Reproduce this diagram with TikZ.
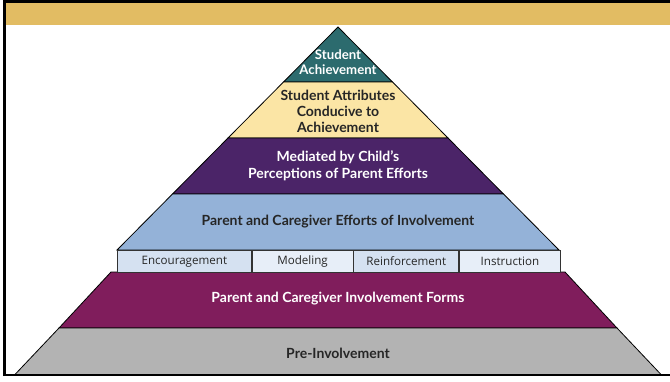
\documentclass[tikz,border=0pt]{standalone}
\usepackage{fontspec}
\setmainfont{Lato}
\newfontfamily\boxfont{Open Sans}
\usetikzlibrary{positioning}

\definecolor{bandGold}{HTML}{E2BC63}
\definecolor{tealTop}{HTML}{2C6B6E}
\definecolor{paleYellow}{HTML}{FBE5A5}
\definecolor{deepPurple}{HTML}{4B2468}
\definecolor{softBlue}{HTML}{94B2D8}
\definecolor{boxBlueA}{HTML}{D5E1F1}
\definecolor{boxBlueB}{HTML}{E7EEF8}
\definecolor{plum}{HTML}{801D5C}
\definecolor{baseGray}{HTML}{B3B3B3}

\begin{document}
\begin{tikzpicture}[x=1pt, y=-1pt,
    layer/.style={draw=black, line width=0.8pt},
    darktext/.style={font=\bfseries\fontsize{14}{16}\selectfont, text=black!85, align=center},
    lighttext/.style={font=\bfseries\fontsize{14}{16.5}\selectfont, text=white, align=center},
    formbox/.style={draw=black!80, line width=0.7pt, font=\boxfont\fontsize{11.6}{13}\selectfont,
        text=black!85, minimum height=22pt, inner sep=0pt, anchor=north west}]

    \useasboundingbox (0,0) rectangle (670,381);

    % frame and band
    \fill[bandGold] (4,2) rectangle (670,25);
    \draw[line width=3pt] (4,376) -- (4,1.5) -- (670,1.5);

    \newcommand{\drawLayer}[5]{
        % #1 = top y, #2 = bottom y
        % #3 = top half width, #4 = bottom half width, #5 = fill
        \filldraw[layer, fill=#5] (338-#3,#1) -- (338+#3,#1) -- (338+#4,#2) -- (338-#4,#2) -- cycle;
    }

    % upper part of the pyramid
    \filldraw[layer, fill=tealTop] (338,27) -- (392.5,82) -- (283.5,82) -- cycle;
    \drawLayer{82}{138}{54.5}{110}{paleYellow}
    \drawLayer{138}{194}{110}{165.5}{deepPurple}
    \drawLayer{194}{250}{165.5}{221}{softBlue}

    % lower part of the pyramid
    \drawLayer{272}{328}{227}{279}{plum}
    \drawLayer{328}{375}{279}{323.5}{baseGray}
    \draw[line width=2pt] (4,375) -- (670,375);

    % row of forms
    \node[formbox, fill=boxBlueA, minimum width=134pt] (encourage) at (117,250) {Encouragement};
    \node[formbox, fill=boxBlueB, minimum width=101pt] (modeling) at (encourage.north east) {Modeling};
    \node[formbox, fill=boxBlueA, minimum width=105pt] (reinforce) at (modeling.north east) {Reinforcement};
    \node[formbox, fill=boxBlueB, minimum width=101pt] (instruct) at (reinforce.north east) {Instruction};

    % labels
    \node[lighttext, font=\bfseries\fontsize{13.2}{15}\selectfont] (achieve) at (338,62) {Student\\Achievement};
    \node[darktext] (attributes) at (338,111) {Student Attributes\\Conducive to\\Achievement};
    \node[lighttext] (mediated) at (338,166) {Mediated by Child’s\\Perceptions of Parent Efforts};
    \node[darktext] (efforts) at (338,222) {Parent and Caregiver Efforts of Involvement};
    \node[lighttext] (forms) at (338,299) {Parent and Caregiver Involvement Forms};
    \node[darktext] (preinv) at (338,353) {Pre-Involvement};

\end{tikzpicture}
\end{document}
